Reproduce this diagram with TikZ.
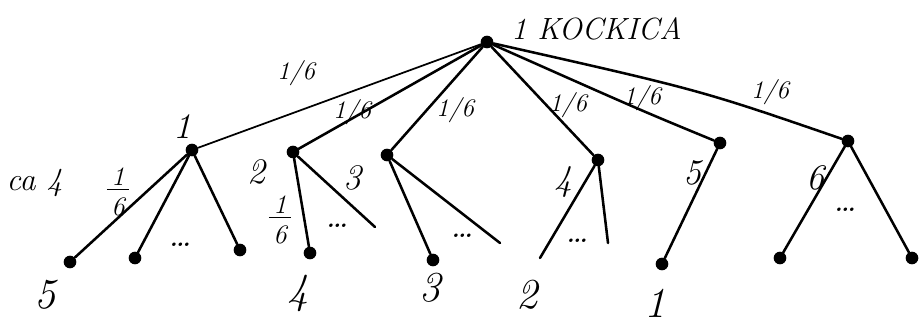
\documentclass[tikz,border=0pt]{standalone}
\usepackage{amsmath}

\begin{document}
\begin{tikzpicture}[x=0.75pt,y=0.75pt,yscale=-1,xscale=1,
  dot/.style={circle,fill=black,inner sep=0pt,minimum size=9.5pt},
  branch/.style={line width=1.9pt,line cap=round},
  prob/.style={inner sep=0.75pt,font=\fontsize{19}{20}\selectfont\itshape},
  frac/.style={inner sep=0.75pt,font=\fontsize{20}{22}\selectfont\itshape,align=center},
  facelbl/.style={inner sep=0.75pt,font=\fontsize{27}{29}\selectfont\itshape},
  leaflbl/.style={inner sep=0.75pt,font=\fontsize{32}{34}\selectfont\itshape}]
\useasboundingbox (0,0) rectangle (923,325);

% Root
\node [dot] (root) at (487,42) {};
\node [anchor=west,inner sep=0.75pt,font=\fontsize{23}{25}\selectfont\itshape] (title) at (510,29) {1 KOCKICA};

% Level 1
\node [dot] (n1) at (192,150) {};
\node [dot] (n2) at (293,152) {};
\node [dot] (n3) at (387,155) {};
\node [dot] (n4) at (598,160) {};
\node [dot] (n5) at (720,143) {};
\node [dot] (n6) at (848,141) {};

% Leaves
\node [dot] (a1) at (70,262) {};
\node [dot] (a2) at (135,258) {};
\node [dot] (a3) at (240,250) {};
\node [dot] (b1) at (310,253) {};
\coordinate (b2) at (375,227);
\node [dot] (c1) at (433,260) {};
\coordinate (c2) at (500,243);
\coordinate (d1) at (540,258);
\coordinate (d2) at (608,243);
\node [dot] (e1) at (662,264) {};
\node [dot] (f1) at (780,258) {};
\node [dot] (f2) at (912,258) {};

% Branches
\draw [branch,line width=1.3pt] (root) -- (n1);
\draw [branch] (root) -- (n2);
\draw [branch] (root) -- (n3);
\draw [branch] (root) -- (n4);
\draw [branch] (root) .. controls (640,110) .. (n5);
\draw [branch] (root) .. controls (700,90) .. (n6);
\draw [branch] (n1) -- (a1);
\draw [branch] (n1) -- (a2);
\draw [branch] (n1) -- (a3);
\draw [branch] (n2) -- (b1);
\draw [branch] (n2) -- (b2);
\draw [branch] (n3) -- (c1);
\draw [branch] (n3) -- (c2);
\draw [branch] (n4) -- (d1);
\draw [branch] (n4) -- (d2);
\draw [branch] (n5) -- (e1);
\draw [branch] (n6) -- (f1);
\draw [branch] (n6) -- (f2);

% Probabilities
\node [prob] (p1) at (296,73) {1/6};
\node [prob] (p2) at (352,112) {1/6};
\node [prob] (p3) at (455,110) {1/6};
\node [prob] (p4) at (568,105) {1/6};
\node [prob] (p5) at (642,98) {1/6};
\node [prob] (p6) at (770,92) {1/6};
\node [frac] (q1) at (118,192) {\underline{\,1\,}\\6};
\node [frac] (q2) at (280,220) {\underline{\,1\,}\\6};

% Faces
\node [facelbl] (l1) at (182,127) {1};
\node [facelbl] (l2) at (256,172) {2};
\node [facelbl] (l3) at (352,178) {3};
\node [facelbl] (l4) at (563,182) {4};
\node [facelbl] (l5) at (692,173) {5};
\node [facelbl] (l6) at (815,178) {6};

% Dots
\node [facelbl] (m1) at (180,245) {\dots};
\node [facelbl] (m2) at (337,226) {\dots};
\node [facelbl] (m3) at (462,236) {\dots};
\node [facelbl] (m4) at (577,241) {\dots};
\node [facelbl] (m6) at (845,210) {\dots};

% Sums
\node [leaflbl] (s5) at (45,295) {5};
\node [leaflbl] (s4) at (298,293) {4};
\node [leaflbl] (s3) at (430,288) {3};
\node [leaflbl] (s2) at (527,295) {2};
\node [leaflbl] (s1) at (655,303) {1};
\node [anchor=east,inner sep=0.75pt,font=\fontsize{24}{26}\selectfont\itshape] (side) at (64,183) {ca 4};

\end{tikzpicture}
\end{document}
